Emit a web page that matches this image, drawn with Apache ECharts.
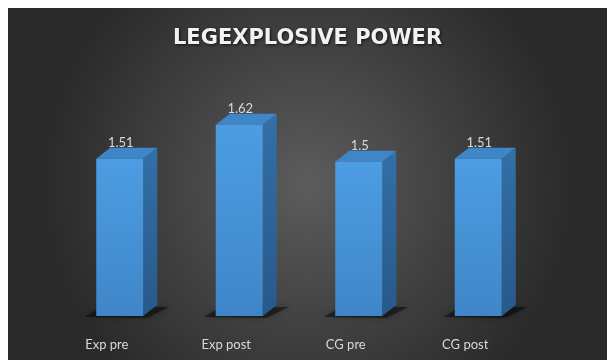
<!DOCTYPE html>
<html>
<head>
<meta charset="utf-8">
<script src="https://cdn.jsdelivr.net/npm/echarts@6/dist/echarts.min.js"></script>
<style>
  html, body { margin: 0; padding: 0; background: #fff; }
  #chart { position: absolute; left: 8px; top: 8px; width: 599px; height: 352px; }
</style>
</head>
<body>
<div id="chart"></div>
<script>
// 数据
const categories = ["Exp pre", "Exp post", "CG pre", "CG post"];
const values = [1.51, 1.62, 1.5, 1.51];
const axisMin = 1;
const axisMax = 1.7;

const chart = echarts.init(document.getElementById("chart"));

// 3D 柱子尺寸
const barW = 47;
const depthX = 14;
const depthY = -11;

const renderBar = (params, api) => {
  const idx = api.value(0);
  const val = api.value(1);
  const topPt = api.coord([idx, val]);
  const basePt = api.coord([idx, axisMin]);
  const x0 = topPt[0] - barW / 2;
  const x1 = topPt[0] + barW / 2;
  const top = topPt[1];
  const bottom = basePt[1];
  return {
    type: "group",
    children: [
      // 阴影
      {
        type: "polygon",
        shape: {
          points: [
            [x0 - 12, bottom + 1],
            [x0 + depthX - 8, bottom + depthY + 2],
            [x1 + depthX + 12, bottom + depthY + 2],
            [x1 + 4, bottom + 2],
          ],
        },
        style: { fill: "rgba(0,0,0,0.45)", shadowBlur: 6, shadowColor: "rgba(0,0,0,0.6)" },
      },
      // 侧面
      {
        type: "polygon",
        shape: {
          points: [
            [x1, top],
            [x1 + depthX, top + depthY],
            [x1 + depthX, bottom + depthY],
            [x1, bottom],
          ],
        },
        style: {
          fill: new echarts.graphic.LinearGradient(0, 0, 0, 1, [
            { offset: 0, color: "#336fa8" },
            { offset: 1, color: "#28598a" },
          ]),
        },
      },
      // 顶面
      {
        type: "polygon",
        shape: {
          points: [
            [x0, top],
            [x0 + depthX, top + depthY],
            [x1 + depthX, top + depthY],
            [x1, top],
          ],
        },
        style: { fill: "#3f86c9" },
      },
      // 正面
      {
        type: "rect",
        shape: { x: x0, y: top, width: barW, height: bottom - top },
        style: {
          fill: new echarts.graphic.LinearGradient(0, 0, 0, 1, [
            { offset: 0, color: "#4d9de2" },
            { offset: 1, color: "#3f86c8" },
          ]),
        },
      },
      // 数值标签
      {
        type: "text",
        x: topPt[0] + 1,
        y: top + depthY - 5,
        style: {
          text: String(val),
          fill: "#d9d9d9",
          font: "13px Lato",
          align: "center",
          verticalAlign: "middle",
        },
      },
    ],
  };
};

const option = {
  backgroundColor: new echarts.graphic.RadialGradient(0.5, 0.5, 0.75, [
    { offset: 0, color: "#5c5c5c" },
    { offset: 1, color: "#2a2a2a" },
  ]),
  title: {
    text: "LEGEXPLOSIVE POWER",
    left: "center",
    top: 15,
    textStyle: {
      color: "#f2f2f2",
      fontFamily: "DejaVu Sans",
      fontWeight: "bold",
      fontSize: 21,
      textShadowColor: "rgba(0,0,0,0.7)",
      textShadowBlur: 3,
      textShadowOffsetX: 1,
      textShadowOffsetY: 1,
    },
  },
  grid: { left: 52, right: 69, top: 92, bottom: 44 },
  xAxis: {
    type: "category",
    data: categories,
    axisLine: { show: false },
    axisTick: { show: false },
    axisLabel: {
      color: "#d9d9d9",
      fontFamily: "Lato",
      fontSize: 13,
      margin: 22,
      padding: [0, 26, 0, 0],
    },
  },
  yAxis: {
    type: "value",
    min: axisMin,
    max: axisMax,
    show: false,
  },
  series: [
    {
      type: "custom",
      renderItem: renderBar,
      data: values.map((v, i) => [i, v]),
    },
  ],
};
chart.setOption(option);
</script>
</body>
</html>
